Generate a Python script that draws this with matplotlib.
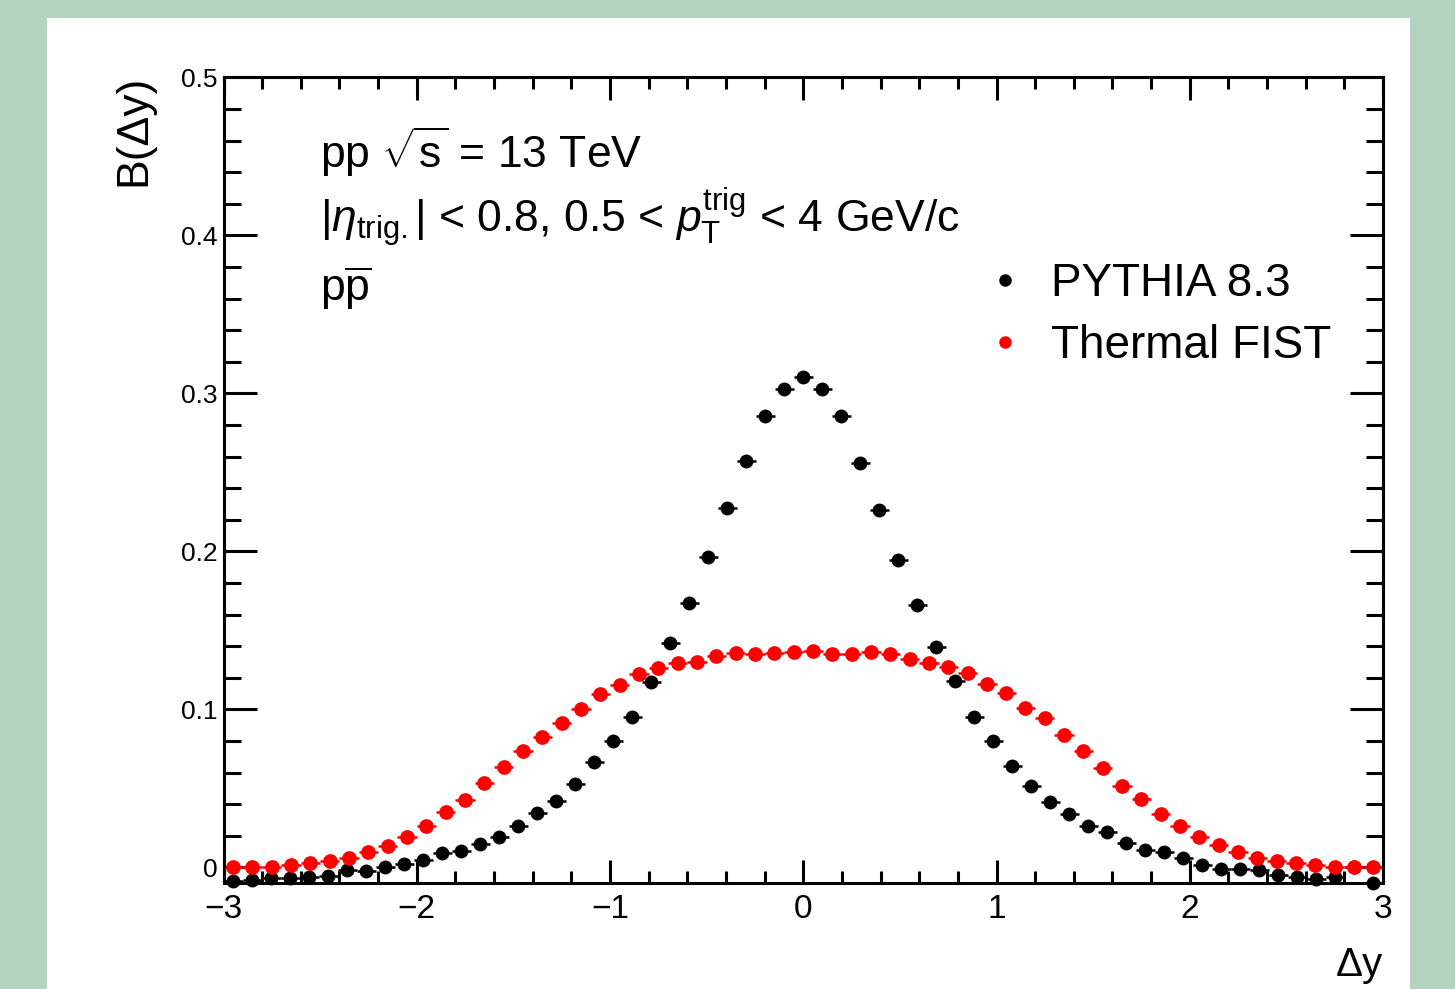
import numpy as np
import matplotlib
matplotlib.use('Agg')
import matplotlib.pyplot as plt
from matplotlib.patches import Rectangle
from matplotlib.lines import Line2D
from matplotlib.ticker import MultipleLocator, FuncFormatter

plt.rcParams['font.family'] = ['Liberation Sans', 'DejaVu Sans']
plt.rcParams['mathtext.fontset'] = 'custom'
plt.rcParams['mathtext.rm'] = 'Liberation Sans'
plt.rcParams['mathtext.it'] = 'Liberation Sans:italic'
plt.rcParams['mathtext.bf'] = 'Liberation Sans:bold'

# binning of the two histograms (61 bins and 60 bins over [-3, 3])
pythia_edges = np.linspace(-3, 3, 62)
fist_edges = np.linspace(-3, 3, 61)

pythia_b = [-0.0085, -0.0080, -0.0068, -0.0068, -0.0063, -0.0055, -0.0017, -0.0021,
            0.0004, 0.0021, 0.0046, 0.0089, 0.0105, 0.0147, 0.0194, 0.0263,
            0.0342, 0.0422, 0.0525, 0.0665, 0.0801, 0.0950, 0.1175, 0.1418,
            0.1671, 0.1966, 0.2276, 0.2573, 0.2858, 0.3027, 0.3101, 0.3027,
            0.2858, 0.2561, 0.2261, 0.1945, 0.1660, 0.1396, 0.1181, 0.0950,
            0.0801, 0.0641, 0.0516, 0.0415, 0.0339, 0.0263, 0.0225, 0.0152,
            0.0109, 0.0099, 0.0057, 0.0015, -0.0011, -0.0011, -0.0017, -0.0049,
            -0.0063, -0.0076, -0.0063, 0.0003, -0.0097]

fist_b = [0.0000, 0.0000, 0.0004, 0.0013, 0.0025, 0.0042, 0.0057, 0.0095,
          0.0135, 0.0190, 0.0263, 0.0348, 0.0426, 0.0532, 0.0633, 0.0736,
          0.0827, 0.0915, 0.1000, 0.1097, 0.1154, 0.1223, 0.1260, 0.1291,
          0.1301, 0.1337, 0.1358, 0.1350, 0.1358, 0.1361, 0.1369, 0.1348,
          0.1348, 0.1361, 0.1348, 0.1316, 0.1291, 0.1270, 0.1228, 0.1162,
          0.1103, 0.1006, 0.0943, 0.0837, 0.0736, 0.0627, 0.0516, 0.0430,
          0.0337, 0.0263, 0.0194, 0.0141, 0.0099, 0.0057, 0.0042, 0.0025,
          0.0015, 0.0004, 0.0000, 0.0000]

labels = ['PYTHIA 8.3', 'Thermal FIST']
colors = ['black', '#ff0000']

W, H = 1455, 989
fig = plt.figure(figsize=(W / 100, H / 100), dpi=100)
fig.patch.set_facecolor('#b4d3be')
fig.add_artist(Rectangle((47 / W, 0), (1410 - 47) / W, (H - 18) / H,
                         transform=fig.transFigure, facecolor='white',
                         edgecolor='none', zorder=-10))

ax = fig.add_axes([223.5 / W, 1 - 882.7 / H, (1383 - 223.5) / W, (882.7 - 77.3) / H])

for edges, vals, c, ms in [(pythia_edges, pythia_b, colors[0], 10.0),
                           (fist_edges, fist_b, colors[1], 10.6)]:
    xc = 0.5 * (edges[1:] + edges[:-1])
    xe = 0.5 * (edges[1:] - edges[:-1])
    _, caps, bars = ax.errorbar(xc, vals, xerr=xe, fmt='o', color=c, ms=ms,
                                elinewidth=1.8, capsize=0, mew=0)
    for b in bars:
        b.set_clip_on(False)
    ax.lines[-1].set_clip_on(False)

ax.set_xlim(-3, 3)
ax.set_ylim(-0.0097, 0.5)

for s in ax.spines.values():
    s.set_linewidth(2.2)

ax.xaxis.set_major_locator(MultipleLocator(1))
ax.xaxis.set_minor_locator(MultipleLocator(0.2))
ax.yaxis.set_major_locator(MultipleLocator(0.1))
ax.yaxis.set_minor_locator(MultipleLocator(0.02))
ax.yaxis.set_major_formatter(FuncFormatter(lambda v, p: f'{v:g}'))

ax.tick_params(axis='x', which='both', direction='in', top=True, bottom=True,
               width=2.2, labelsize=24, pad=8)
ax.tick_params(axis='x', which='major', length=16.5)
ax.tick_params(axis='x', which='minor', length=8.6)
ax.tick_params(axis='y', which='both', direction='in', left=True, right=True,
               width=2.2, labelsize=19, pad=4)
ax.tick_params(axis='y', which='major', length=23.5)
ax.tick_params(axis='y', which='minor', length=12)

fig.text(134 / W, 1 - 75 / H, 'B(Δy)', rotation=90, ha='center', va='top', fontsize=32)
fig.text(1383 / W, 1 - 976 / H, 'Δy', ha='right', va='baseline', fontsize=29)

fig.text(320 / W, 1 - 168 / H, r'pp $\sqrt{\mathrm{s}}$ = 13 TeV', ha='left', va='baseline', fontsize=32)
fig.text(320 / W, 1 - 233 / H,
         r'$|\eta_{\mathrm{trig.}}|$ < 0.8, 0.5 < $p_{\mathrm{T}}^{\mathrm{trig}}$ < 4 GeV/c',
         ha='left', va='baseline', fontsize=32)
fig.text(320 / W, 1 - 301 / H, r'p$\overline{\mathrm{p}}$', ha='left', va='baseline', fontsize=32)

handles = [Line2D([], [], ls='none', marker='o', color=c, ms=9.0, mew=0) for c in colors]
ax.legend(handles, labels, loc='upper left', bbox_to_anchor=(982 / W, 1 - 262 / H),
          bbox_transform=fig.transFigure, frameon=False, borderpad=0,
          borderaxespad=0, fontsize=33, handlelength=1.0, handletextpad=0.5,
          labelspacing=0.40)

fig.savefig('out.png', dpi=100)
